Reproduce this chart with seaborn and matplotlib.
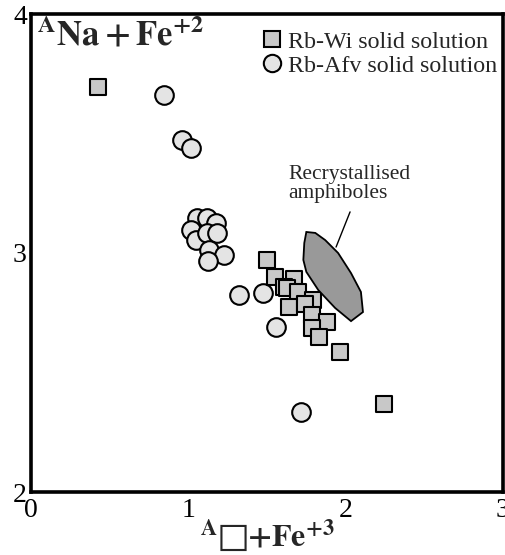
import numpy as np
import pandas as pd
import matplotlib
matplotlib.use("Agg")
import matplotlib.pyplot as plt
import seaborn as sns
from matplotlib.patches import Polygon

# ---- data ----
wi_x = [0.423, 1.503, 1.554, 1.674, 1.605, 1.630, 1.699, 1.794, 1.642, 1.744,
        1.788, 1.882, 1.788, 1.832, 1.965, 2.243]
wi_y = [3.695, 2.971, 2.900, 2.891, 2.858, 2.854, 2.837, 2.803, 2.774, 2.787,
        2.741, 2.711, 2.686, 2.649, 2.586, 2.368]

afv_x = [0.847, 0.960, 1.017, 1.055, 1.118, 1.175, 1.017, 1.049, 1.118, 1.181,
         1.131, 1.226, 1.124, 1.320, 1.472, 1.560, 1.718]
afv_y = [3.661, 3.473, 3.439, 3.146, 3.146, 3.126, 3.096, 3.054, 3.084, 3.084,
         3.013, 2.992, 2.967, 2.824, 2.833, 2.690, 2.335]

recryst_x = [1.750, 1.807, 1.870, 1.952, 2.034, 2.097, 2.110, 2.034, 1.933,
             1.826, 1.750, 1.731, 1.737]
recryst_y = [3.088, 3.084, 3.054, 3.000, 2.916, 2.837, 2.753, 2.715, 2.770,
             2.845, 2.921, 2.971, 3.042]

series_names = ["Rb-Wi solid solution", "Rb-Afv solid solution"]
x_ticks = [0, 1, 2, 3]
y_ticks = [2, 3, 4]
y_minor = [2.5, 3.5]

sns.set_theme(style="white")
plt.rcParams["font.family"] = ["Liberation Serif", "DejaVu Sans"]
plt.rcParams["mathtext.fontset"] = "stix"

df = pd.concat([
    pd.DataFrame({"x": wi_x, "y": wi_y, "series": series_names[0]}),
    pd.DataFrame({"x": afv_x, "y": afv_y, "series": series_names[1]}),
], ignore_index=True)

fig = plt.figure(figsize=(5.06, 5.55), dpi=100)
ax = fig.add_axes([31/506, 1 - 492/555, (503 - 31)/506, (492 - 14)/555])

sns.scatterplot(data=df[df.series == series_names[1]], x="x", y="y",
                marker="o", s=180, color="#e4e4e4", edgecolor="black",
                linewidth=1.5, ax=ax, zorder=3, legend=False)
sns.scatterplot(data=df[df.series == series_names[0]], x="x", y="y",
                marker="s", s=130, color="#c8c8c8", edgecolor="black",
                linewidth=1.5, ax=ax, zorder=4, legend=False)

poly = Polygon(np.column_stack([recryst_x, recryst_y]), closed=True,
               facecolor="#999999", edgecolor="black", linewidth=1.3, zorder=5)
ax.add_patch(poly)
ax.plot([1.939, 2.028], [3.025, 3.172], color="black", lw=1.0, zorder=5)
ax.text(1.636, 3.37, "Recrystallised\namphiboles", fontsize=15.5,
        ha="left", va="top", linespacing=1.0, zorder=6)

ax.set_xlim(0, 3)
ax.set_ylim(2, 4)
ax.set_xticks(x_ticks)
ax.set_yticks(y_ticks)
ax.set_yticks(y_minor, minor=True)
ax.tick_params(axis="both", which="both", direction="in", length=7, width=1.5,
               labelsize=20, colors="black")
ax.tick_params(axis="x", pad=4)
ax.tick_params(axis="y", pad=3)
for sp in ax.spines.values():
    sp.set_linewidth(2.6)
    sp.set_color("black")
    sp.set_visible(True)
ax.set_xlabel("")
ax.set_ylabel("")

ax.text(0.012, 0.992, r"$^{\mathbf{A}}\mathbf{Na+Fe}^{\mathbf{+2}}$",
        transform=ax.transAxes, fontsize=25, ha="left", va="top")
fig.text(267/506, 0.001, r"$^{\mathbf{A}}□\mathbf{+Fe}^{\mathbf{+3}}$",
         fontsize=23, ha="center", va="bottom")

handles = [
    plt.Line2D([], [], marker="s", ls="none", markersize=11, markerfacecolor="#c8c8c8",
               markeredgecolor="black", markeredgewidth=1.5),
    plt.Line2D([], [], marker="o", ls="none", markersize=12.5, markerfacecolor="#e4e4e4",
               markeredgecolor="black", markeredgewidth=1.5),
]
ax.legend(handles, series_names, loc="upper right", bbox_to_anchor=(1.023, 1.0),
          frameon=False, fontsize=17.3,
          handlelength=0.8, handletextpad=0.25, borderaxespad=0.4,
          labelspacing=0.1, borderpad=0.3)

fig.savefig("out.png", dpi=100)
